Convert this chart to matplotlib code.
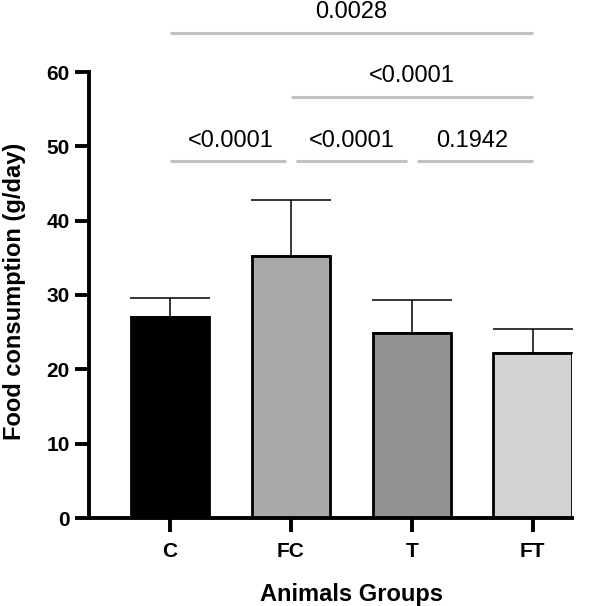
import matplotlib
matplotlib.use("Agg")
import matplotlib.pyplot as plt

plt.rcParams['font.family'] = ['Liberation Sans', 'DejaVu Sans']

groups = ["C", "FC", "T", "FT"]
means = [27.1, 35.3, 24.9, 22.2]
errors = [2.5, 7.5, 4.4, 3.2]
colors = ["#000000", "#a9a9a9", "#939393", "#d3d3d3"]

# comparisons: (i, j, level_y, label)
comparisons = [
    (0, 3, 65.3, "0.0028"),
    (1, 3, 56.7, "<0.0001"),
    (0, 1, 48.0, "<0.0001"),
    (1, 2, 48.0, "<0.0001"),
    (2, 3, 48.0, "0.1942"),
]
y_ticks = [0, 10, 20, 30, 40, 50, 60]

fig = plt.figure(figsize=(6.14, 6.06), dpi=100)
ax = fig.add_axes([89/614, 1-518/606, (572-89)/614, (518-72)/606])

x = list(range(len(groups)))
ax.bar(x, means, width=0.65, color=colors, edgecolor="black", linewidth=2.0, zorder=2)
ax.errorbar(x, means, yerr=[[0]*4, errors], fmt="none", ecolor="black",
            elinewidth=1.1, capsize=29, capthick=1.1, zorder=1)

ax.set_xlim(-0.67, 3.325)
ax.set_ylim(0, 60)
ax.set_yticks(y_ticks)
ax.set_xticks(x)
ax.set_xticklabels(groups)
for lab in ax.get_xticklabels() + ax.get_yticklabels():
    lab.set_fontweight("bold")
    lab.set_fontsize(15)
ax.spines["top"].set_visible(False)
ax.spines["right"].set_visible(False)
ax.spines["left"].set_linewidth(2.8)
ax.spines["bottom"].set_linewidth(2.8)
ax.tick_params(width=2.8, length=10)
ax.tick_params(axis="y", pad=4)
ax.tick_params(axis="x", pad=7)
ax.set_ylabel("Food consumption (g/day)", fontsize=17, fontweight="bold")
ax.yaxis.set_label_coords(-0.131, 0.508)
ax.set_xlabel("Animals Groups", fontsize=17, fontweight="bold", va="top")
ax.xaxis.set_label_coords(0.5435, -0.145)

for i, j, yl, lab in comparisons:
    x0, x1 = i, j
    same = [(a, b) for a, b, y2, _ in comparisons if y2 == yl and (a, b) != (i, j)]
    if any(b == i for a, b in same):
        x0 = i + 0.04
    if any(a == j for a, b in same):
        x1 = j - 0.04
    ax.plot([x0, x1], [yl, yl], color="#c0c0c0", lw=2.2, clip_on=False, solid_capstyle="butt")
    ax.text((i + j) / 2, yl + 1.9, lab, ha="center", va="baseline", fontsize=17, clip_on=False)

fig.savefig("out.png", dpi=100)
